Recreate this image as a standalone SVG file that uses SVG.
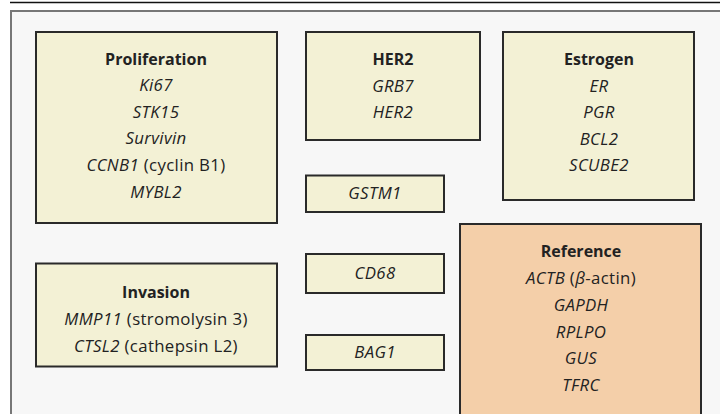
<svg xmlns="http://www.w3.org/2000/svg" width="720" height="414" viewBox="0 0 720 414">
<style>
.box{fill:#f3f1d5;stroke:#2a2a2a;stroke-width:2}
.ref{fill:#f4cfa9;stroke:#2a2a2a;stroke-width:2}
text{font-family:"Open Sans","Noto Sans",sans-serif;font-size:16.8px;fill:#222;text-anchor:middle;letter-spacing:0.35px}
.t{font-weight:bold;font-size:16px;letter-spacing:0}
.i{font-style:italic}
</style>
<rect x="0" y="0" width="720" height="414" fill="#ffffff"/>
<line x1="10" y1="2.5" x2="720" y2="2.5" stroke="#111" stroke-width="1.5"/>
<rect x="11" y="11" width="720" height="420" fill="#f7f7f7" stroke="#777" stroke-width="2"/>
<g id="connectors"></g>
<g id="proliferation">
<rect class="box" x="36" y="32" width="241" height="191"/>
<text class="t" x="156" y="65">Proliferation</text>
<text class="i" x="156" y="91">Ki67</text>
<text class="i" x="156" y="117.5">STK15</text>
<text class="i" x="156" y="144">Survivin</text>
<text x="156" y="171"><tspan class="i">CCNB1</tspan> (cyclin B1)</text>
<text class="i" x="156" y="197.5">MYBL2</text>
</g>
<g id="her2">
<rect class="box" x="306" y="32" width="174" height="108"/>
<text class="t" x="393" y="65">HER2</text>
<text class="i" x="393" y="91.5">GRB7</text>
<text class="i" x="393" y="118">HER2</text>
</g>
<g id="estrogen">
<rect class="box" x="503" y="32" width="191" height="168"/>
<text class="t" x="599" y="65">Estrogen</text>
<text class="i" x="599" y="91.5">ER</text>
<text class="i" x="599" y="118">PGR</text>
<text class="i" x="599" y="144.5">BCL2</text>
<text class="i" x="599" y="171">SCUBE2</text>
</g>
<g id="gstm1">
<rect class="box" x="306" y="175.5" width="138" height="36.5"/>
<text class="i" x="375" y="199">GSTM1</text>
</g>
<g id="invasion">
<rect class="box" x="36" y="263.5" width="241" height="103"/>
<text class="t" x="156" y="297.5">Invasion</text>
<text x="156" y="324.5"><tspan class="i">MMP11</tspan> (stromolysin 3)</text>
<text x="156" y="351.5"><tspan class="i">CTSL2</tspan> (cathepsin L2)</text>
</g>
<g id="cd68">
<rect class="box" x="306" y="254" width="138" height="39"/>
<text class="i" x="375" y="279">CD68</text>
</g>
<g id="bag1">
<rect class="box" x="306" y="335" width="138" height="35"/>
<text class="i" x="375" y="358">BAG1</text>
</g>
<g id="reference">
<rect class="ref" x="460" y="224" width="241" height="200"/>
<text class="t" x="581" y="257">Reference</text>
<text x="581" y="284"><tspan class="i">ACTB</tspan> (<tspan class="i">β</tspan>-actin)</text>
<text class="i" x="581" y="311">GAPDH</text>
<text class="i" x="581" y="337.5">RPLPO</text>
<text class="i" x="581" y="364">GUS</text>
<text class="i" x="581" y="390.5">TFRC</text>
</g>
</svg>
